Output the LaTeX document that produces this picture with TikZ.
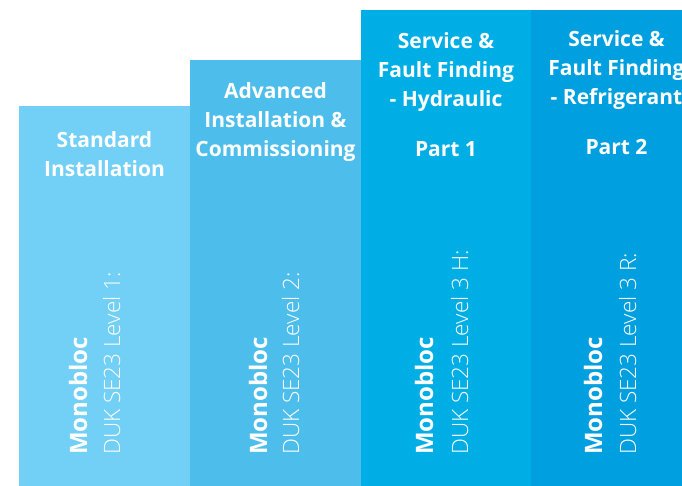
\documentclass[tikz,border=0pt]{standalone}
\usepackage{fontspec}
\setmainfont{Open Sans}
\newfontfamily\thinfont{Open Sans Light}
\usetikzlibrary{positioning}
\definecolor{lvlone}{HTML}{72CFF5}
\definecolor{lvltwo}{HTML}{4DBDEC}
\definecolor{lvlhyd}{HTML}{00AEE6}
\definecolor{lvlref}{HTML}{009FDF}

\begin{document}
\begin{tikzpicture}[x=1pt, y=-1pt,
  head/.style={align=center,text=white,anchor=base,inner sep=0pt,
    font=\bfseries\fontsize{21}{29}\selectfont},
  unit/.style={rotate=90,anchor=base west,text=white,inner sep=0pt,
    font=\bfseries\fontsize{24}{24}\selectfont},
  spec/.style={rotate=90,anchor=base west,text=white,inner sep=0pt,
    font=\thinfont\fontsize{22.5}{22.5}\selectfont}]
  \useasboundingbox (0,0) rectangle (682,486);
  \clip (0,0) rectangle (682,486);
  % Steps, lowest on the left
  \fill[lvlone] (19,106) rectangle (190,486);
  \fill[lvltwo] (190,60) rectangle (361,486);
  \fill[lvlhyd] (361,10) rectangle (531,486);
  \fill[lvlref] (531,10) rectangle (702,486);
  % Course titles (placed by last line)
  \node[head] (t1) at (104.5,177) {Standard\\Installation};
  \node[head] (t2) at (275.5,157) {Advanced\\Installation \&\\Commissioning};
  \node[head] (t3) at (446,157) {Service \&\\Fault Finding\\- Hydraulic\\[21pt]Part 1};
  \node[head] (t4) at (616.5,155) {Service \&\\Fault Finding\\- Refrigerant\\[21pt]Part 2};
  % Vertical labels
  \node[unit] (m1) at (87,455) {Monobloc};
  \node[spec] (d1) at (120,455) {DUK SE23 Level 1:};
  \node[unit] (m2) at (267,455) {Monobloc};
  \node[spec] (d2) at (299,455) {DUK SE23 Level 2:};
  \node[unit] (m3) at (433,455) {Monobloc};
  \node[spec] (d3) at (468,455) {DUK SE23 Level 3 H:};
  \node[unit] (m4) at (602,455) {Monobloc};
  \node[spec] (d4) at (636,455) {DUK SE23 Level 3 R:};
\end{tikzpicture}
\end{document}
